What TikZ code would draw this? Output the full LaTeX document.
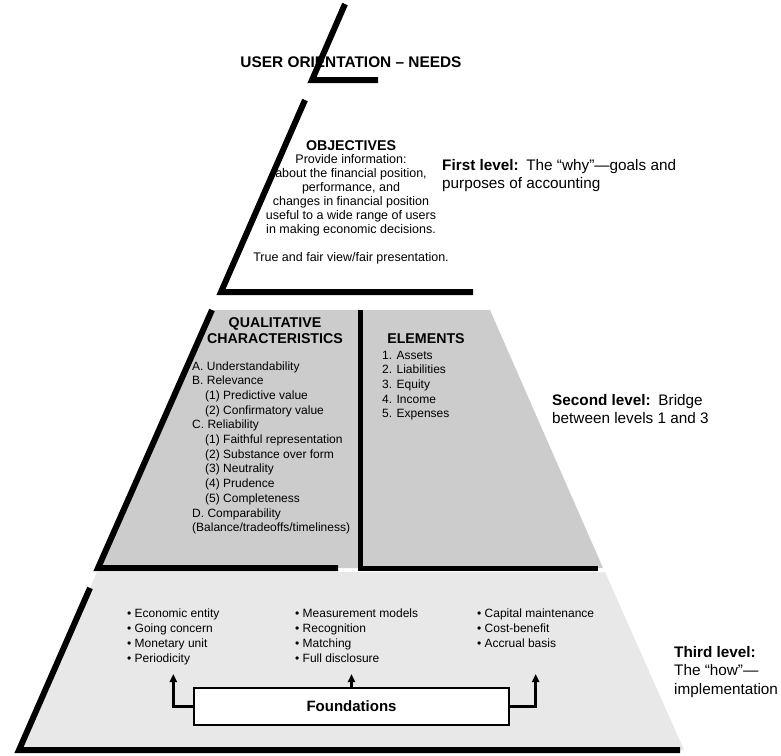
\documentclass[tikz,border=0pt]{standalone}
\usepackage{fontspec}
\setmainfont{Liberation Sans}
\usetikzlibrary{arrows.meta}

\begin{document}
\begin{tikzpicture}[x=1pt,y=-1pt,
    edge/.style={line width=6pt},
    headtext/.style={font=\bfseries\fontsize{14.2}{16}\selectfont,align=center,anchor=base,inner sep=0pt},
    bodytext/.style={font=\fontsize{12.5}{14}\selectfont,align=center,anchor=base,inner sep=0pt},
    lvltext/.style={font=\fontsize{15.3}{18.5}\selectfont,align=left,anchor=base west,inner sep=0pt},
    listtext/.style={font=\fontsize{12}{14.7}\selectfont,align=left,anchor=base west,inner sep=0pt},
    itemtext/.style={font=\fontsize{12}{15}\selectfont,align=left,anchor=base west,inner sep=0pt},
    feed/.style={line width=2.5pt,-{Triangle[length=8pt,width=7pt]}}]
    \useasboundingbox (0,0) rectangle (781,755);

    % 第二层和第三层的底色
    \fill[black!20] (212,310) -- (490,310) -- (603,568) -- (98,568) -- cycle;
    \fill[black!9] (97,572) -- (605,572) -- (684,750) -- (19,750) -- cycle;

    % 顶部
    \node[headtext,font=\bfseries\fontsize{15.4}{18}\selectfont] (needs) at (351,67) {USER ORIENTATION – NEEDS};
    \draw[edge] (345,4) -- (312,80) -- (378,80);

    % 第一层 (多行文字按最后一行的基线放)
    \draw[edge] (305,100) -- (221,292) -- (473,292);
    \node[headtext] (objhead) at (351,150) {OBJECTIVES};
    \node[bodytext] (objtext) at (351,261) {Provide information:\\about the financial position,\\performance, and\\changes in financial position\\useful to a wide range of users\\in making economic decisions.\\[14pt]True and fair view/fair presentation.};
    \node[lvltext] (first) at (442,188.5) {\textbf{First level:}\enspace The “why”—goals and\\purposes of accounting};

    % 第二层
    \draw[edge] (212,310) -- (98,568) -- (338,568);
    \draw[edge,line width=5pt] (360,310) -- (360,568) -- (598,568);
    \node[headtext] (qualhead) at (275,343) {QUALITATIVE\\CHARACTERISTICS};
    \node[listtext] (quallist) at (192,531.7) {A. Understandability\\B. Relevance\\\hspace{13pt}(1) Predictive value\\\hspace{13pt}(2) Confirmatory value\\C. Reliability\\\hspace{13pt}(1) Faithful representation\\\hspace{13pt}(2) Substance over form\\\hspace{13pt}(3) Neutrality\\\hspace{13pt}(4) Prudence\\\hspace{13pt}(5) Completeness\\D. Comparability\\(Balance/tradeoffs/timeliness)};
    \node[headtext] (elemhead) at (426,343) {ELEMENTS};
    \node[listtext] (elemlist) at (382,417.8) {1. Assets\\2. Liabilities\\3. Equity\\4. Income\\5. Expenses};
    \node[lvltext] (second) at (552,423.5) {\textbf{Second level:}\enspace Bridge\\between levels 1 and 3};

    % 第三层
    \draw[edge] (90,588) -- (19,750) -- (680,750);
    \node[itemtext] (col1) at (127,662.5) {• Economic entity\\• Going concern\\• Monetary unit\\• Periodicity};
    \node[itemtext] (col2) at (295,662.5) {• Measurement models\\• Recognition\\• Matching\\• Full disclosure};
    \node[itemtext] (col3) at (477,647.5) {• Capital maintenance\\• Cost-benefit\\• Accrual basis};
    \node[draw,line width=2pt,fill=white,minimum width=315pt,minimum height=37pt,font=\bfseries\fontsize{15}{18}\selectfont] (found) at (351.5,706.5) {Foundations};
    \coordinate (tipline) at ([yshift=13pt]found.north);
    \node[lvltext] (third) at (674,694) {\textbf{Third level:}\\The “how”—\\implementation};

    % 箭头
    \draw[feed] (found.west) -| (col1.south |- tipline);
    \draw[feed] (found.north) -- (tipline);
    \draw[feed] (found.east) -| (col3.south |- tipline);
\end{tikzpicture}
\end{document}
